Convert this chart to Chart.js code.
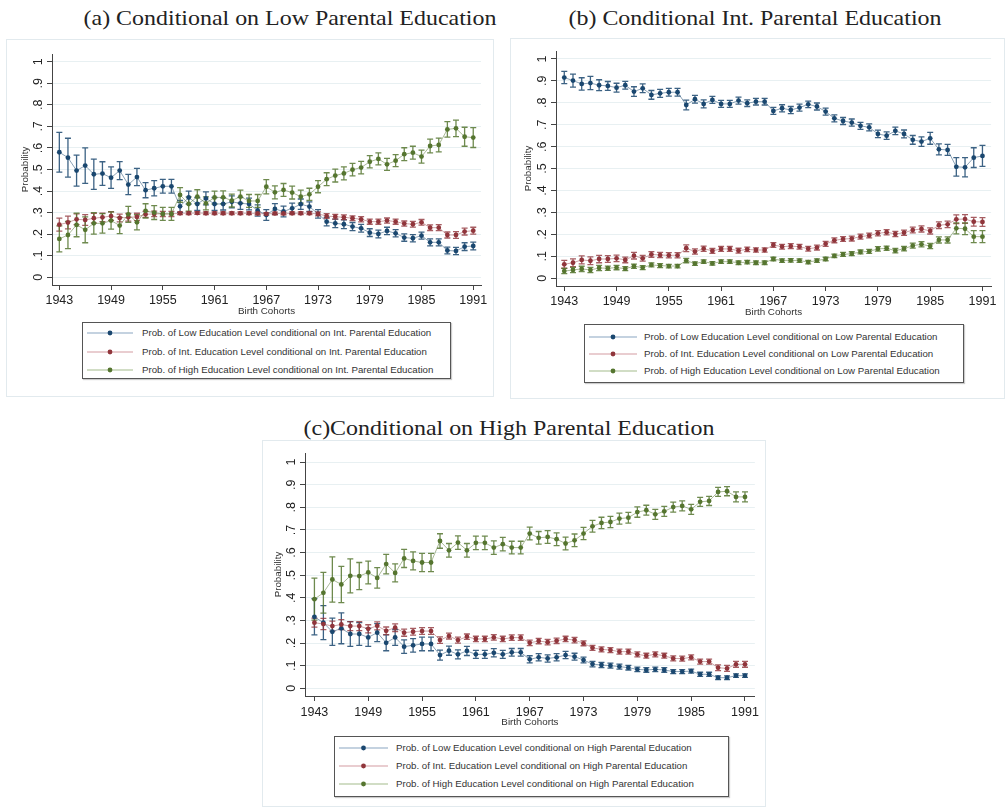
<!DOCTYPE html>
<html><head><meta charset="utf-8">
<script src="https://cdn.jsdelivr.net/npm/chart.js@4.4.1/dist/chart.umd.min.js"></script>
<style>
html,body{margin:0;padding:0;background:#fff;}
#page{position:relative;width:1006px;height:808px;overflow:hidden;font-family:"Liberation Sans",Arial,sans-serif;}
.frame{position:absolute;border:1px solid #e2eaee;box-sizing:border-box;}
.ptitle{position:absolute;width:600px;text-align:center;font-family:"Liberation Serif","Times New Roman",serif;font-size:21px;line-height:21px;color:#222;white-space:nowrap;transform:scaleX(1.14);transform-origin:50% 50%;}
canvas{position:absolute;}
.legend{position:absolute;border:1px solid #555;box-sizing:border-box;background:#fff;box-shadow:1px 1px 1px rgba(0,0,0,0.2);}
.lrow{position:absolute;height:14px;font-size:9.7px;line-height:14px;color:#333;white-space:nowrap;}
.lsvg{position:absolute;}
</style></head>
<body><div id="page"></div>
<script>
// ---------- categories ----------
const years = [1943,1944,1945,1946,1947,1948,1949,1950,1951,1952,1953,1954,1955,1956,1957,1958,1959,1960,1961,1962,1963,1964,1965,1966,1967,1968,1969,1970,1971,1972,1973,1974,1975,1976,1977,1978,1979,1980,1981,1982,1983,1984,1985,1986,1987,1988,1989,1990,1991];
const xTickValues = [1943,1949,1955,1961,1967,1973,1979,1985,1991];
const yTickValues = [0,0.1,0.2,0.3,0.4,0.5,0.6,0.7,0.8,0.9,1];
const yTickLabels = ['0','.1','.2','.3','.4','.5','.6','.7','.8','.9','1'];

// ---------- panel titles & legends ----------
const titleA = '(a) Conditional on Low Parental Education';
const titleB = '(b) Conditional Int. Parental Education';
const titleC = '(c)Conditional on High Parental Education';
const legendA = ['Prob. of Low Education Level conditional on Int. Parental Education','Prob. of Int. Education Level conditional on Int. Parental Education','Prob. of High Education Level conditional on Int. Parental Education'];
const legendB = ['Prob. of Low Education Level conditional on Low Parental Education','Prob. of Int. Education Level conditional on Low Parental Education','Prob. of High Education Level conditional on Low Parental Education'];
const legendC = ['Prob. of Low Education Level conditional on High Parental Education','Prob. of Int. Education Level conditional on High Parental Education','Prob. of High Education Level conditional on High Parental Education'];
const xTitle = 'Birth Cohorts';
const yTitle = 'Probability';

// ---------- panel (a) ----------
const aLow  = [0.58,0.555,0.495,0.518,0.478,0.481,0.462,0.495,0.43,0.465,0.404,0.413,0.422,0.422,0.329,0.37,0.34,0.366,0.34,0.34,0.35,0.343,0.34,0.31,0.289,0.317,0.305,0.32,0.339,0.328,0.294,0.258,0.25,0.246,0.235,0.227,0.207,0.201,0.215,0.204,0.184,0.181,0.193,0.162,0.162,0.124,0.122,0.142,0.145];
const aInt  = [0.244,0.254,0.269,0.266,0.274,0.278,0.284,0.275,0.278,0.28,0.292,0.294,0.294,0.294,0.297,0.297,0.298,0.297,0.297,0.297,0.297,0.297,0.297,0.296,0.294,0.296,0.296,0.297,0.297,0.297,0.294,0.284,0.281,0.278,0.274,0.269,0.258,0.258,0.263,0.258,0.249,0.246,0.255,0.23,0.23,0.196,0.196,0.212,0.216];
const aHigh = [0.178,0.196,0.243,0.22,0.25,0.25,0.263,0.24,0.292,0.255,0.308,0.3,0.294,0.294,0.382,0.34,0.374,0.343,0.37,0.371,0.356,0.374,0.354,0.354,0.42,0.394,0.405,0.393,0.374,0.385,0.42,0.455,0.472,0.482,0.499,0.509,0.536,0.549,0.524,0.541,0.571,0.578,0.56,0.609,0.614,0.686,0.691,0.652,0.648];
const aLowErr  = [0.092,0.09,0.072,0.082,0.07,0.055,0.05,0.042,0.047,0.04,0.035,0.035,0.032,0.032,0.028,0.03,0.03,0.03,0.03,0.028,0.028,0.028,0.027,0.026,0.025,0.025,0.025,0.024,0.024,0.022,0.02,0.02,0.02,0.02,0.019,0.018,0.018,0.018,0.017,0.017,0.017,0.017,0.016,0.016,0.016,0.016,0.017,0.018,0.018];
const aIntErr  = [0.03,0.03,0.025,0.025,0.022,0.02,0.02,0.018,0.018,0.017,0.014,0.013,0.012,0.012,0.006,0.006,0.006,0.006,0.006,0.006,0.006,0.006,0.006,0.006,0.006,0.006,0.006,0.006,0.006,0.006,0.009,0.011,0.011,0.011,0.011,0.012,0.012,0.012,0.012,0.012,0.012,0.013,0.013,0.013,0.014,0.014,0.016,0.016,0.016];
const aHighErr = [0.06,0.063,0.055,0.06,0.05,0.045,0.04,0.038,0.037,0.035,0.033,0.032,0.03,0.03,0.034,0.033,0.032,0.03,0.03,0.03,0.03,0.03,0.03,0.03,0.033,0.03,0.03,0.03,0.03,0.028,0.028,0.03,0.03,0.03,0.029,0.029,0.028,0.028,0.028,0.028,0.03,0.03,0.03,0.032,0.032,0.036,0.038,0.044,0.046];

// ---------- panel (b) ----------
const bLow  = [0.915,0.901,0.886,0.89,0.88,0.877,0.869,0.88,0.851,0.866,0.836,0.843,0.848,0.848,0.79,0.816,0.795,0.813,0.795,0.795,0.81,0.798,0.805,0.805,0.763,0.775,0.767,0.778,0.793,0.783,0.76,0.729,0.717,0.71,0.695,0.688,0.658,0.65,0.672,0.658,0.631,0.623,0.638,0.588,0.585,0.508,0.506,0.55,0.558];
const bInt  = [0.064,0.071,0.084,0.08,0.088,0.088,0.091,0.084,0.103,0.091,0.109,0.106,0.105,0.105,0.137,0.122,0.135,0.125,0.134,0.134,0.126,0.132,0.129,0.129,0.152,0.144,0.147,0.144,0.135,0.14,0.157,0.173,0.179,0.181,0.19,0.195,0.205,0.21,0.202,0.208,0.22,0.225,0.216,0.242,0.246,0.269,0.27,0.258,0.257];
const bHigh = [0.033,0.038,0.043,0.038,0.047,0.046,0.049,0.044,0.055,0.049,0.061,0.058,0.056,0.056,0.081,0.067,0.076,0.068,0.076,0.076,0.071,0.074,0.071,0.071,0.088,0.081,0.082,0.081,0.074,0.081,0.088,0.102,0.109,0.112,0.12,0.123,0.134,0.137,0.126,0.135,0.149,0.155,0.147,0.175,0.175,0.228,0.226,0.19,0.19];
const bLowErr  = [0.028,0.03,0.028,0.03,0.025,0.02,0.02,0.018,0.022,0.02,0.02,0.018,0.018,0.018,0.022,0.018,0.018,0.016,0.016,0.016,0.016,0.015,0.015,0.015,0.016,0.016,0.016,0.016,0.015,0.016,0.016,0.016,0.016,0.016,0.016,0.016,0.017,0.017,0.017,0.018,0.02,0.022,0.027,0.025,0.025,0.042,0.044,0.045,0.048];
const bIntErr  = [0.018,0.018,0.018,0.018,0.017,0.015,0.015,0.013,0.015,0.013,0.013,0.012,0.012,0.012,0.015,0.012,0.012,0.011,0.011,0.011,0.011,0.01,0.01,0.01,0.011,0.011,0.011,0.011,0.011,0.011,0.011,0.011,0.011,0.011,0.011,0.011,0.012,0.012,0.012,0.012,0.013,0.014,0.014,0.015,0.015,0.02,0.02,0.02,0.02];
const bHighErr = [0.012,0.012,0.012,0.012,0.012,0.01,0.01,0.009,0.01,0.009,0.009,0.009,0.008,0.008,0.01,0.008,0.008,0.008,0.008,0.008,0.008,0.008,0.008,0.008,0.008,0.008,0.008,0.008,0.008,0.008,0.008,0.008,0.009,0.009,0.009,0.009,0.01,0.01,0.01,0.01,0.011,0.012,0.012,0.014,0.014,0.025,0.027,0.027,0.027];

// ---------- panel (c) ----------
const cLow  = [0.316,0.29,0.25,0.265,0.24,0.24,0.225,0.246,0.201,0.225,0.184,0.19,0.196,0.196,0.147,0.166,0.15,0.165,0.15,0.15,0.157,0.15,0.159,0.159,0.128,0.137,0.132,0.137,0.147,0.14,0.125,0.107,0.103,0.1,0.096,0.091,0.084,0.081,0.084,0.081,0.074,0.074,0.076,0.062,0.062,0.047,0.047,0.056,0.056];
const cInt  = [0.29,0.284,0.275,0.282,0.275,0.275,0.263,0.276,0.254,0.268,0.246,0.25,0.253,0.253,0.213,0.231,0.213,0.228,0.218,0.218,0.225,0.218,0.224,0.224,0.201,0.209,0.204,0.21,0.218,0.213,0.199,0.179,0.172,0.169,0.162,0.162,0.15,0.144,0.15,0.144,0.132,0.131,0.137,0.118,0.118,0.091,0.088,0.106,0.106];
const cHigh = [0.394,0.422,0.481,0.459,0.497,0.496,0.512,0.488,0.549,0.51,0.574,0.563,0.556,0.556,0.651,0.61,0.644,0.61,0.643,0.643,0.622,0.637,0.622,0.622,0.684,0.665,0.669,0.659,0.64,0.654,0.684,0.716,0.731,0.735,0.75,0.754,0.779,0.787,0.769,0.782,0.801,0.806,0.791,0.824,0.828,0.868,0.871,0.846,0.846];
const cLowErr  = [0.08,0.075,0.06,0.068,0.055,0.05,0.04,0.04,0.035,0.035,0.03,0.03,0.03,0.03,0.022,0.02,0.02,0.02,0.018,0.018,0.018,0.018,0.017,0.017,0.016,0.016,0.016,0.016,0.016,0.015,0.013,0.012,0.012,0.011,0.011,0.01,0.01,0.01,0.01,0.01,0.009,0.009,0.009,0.009,0.009,0.008,0.008,0.008,0.008];
const cIntErr  = [0.02,0.025,0.022,0.022,0.02,0.02,0.018,0.018,0.017,0.017,0.016,0.015,0.015,0.015,0.014,0.013,0.013,0.012,0.012,0.012,0.012,0.012,0.012,0.012,0.012,0.012,0.012,0.012,0.012,0.012,0.011,0.011,0.011,0.011,0.011,0.011,0.011,0.011,0.011,0.011,0.011,0.011,0.011,0.011,0.011,0.013,0.013,0.013,0.013];
const cHighErr = [0.093,0.09,0.1,0.08,0.075,0.06,0.05,0.045,0.043,0.04,0.04,0.04,0.04,0.04,0.032,0.03,0.03,0.03,0.03,0.03,0.03,0.03,0.028,0.028,0.028,0.028,0.028,0.028,0.028,0.028,0.027,0.026,0.025,0.025,0.024,0.024,0.023,0.022,0.022,0.022,0.022,0.022,0.022,0.02,0.02,0.02,0.02,0.022,0.022];

// ---------- styles ----------
const markColors = ['#1a476f','#90353b','#55752f'];
const lineColors = ['rgba(26,71,111,0.5)','rgba(144,53,59,0.45)','rgba(85,117,47,0.5)'];
const errColors  = ['rgba(26,71,111,0.85)','rgba(144,53,59,0.8)','rgba(85,117,47,0.85)'];
const legendLineColors = ['#8aa6c2','#d49ca2','#a3bb8c'];

const panels = [
  {title:titleA, legend:legendA, series:[aLow,aInt,aHigh], errs:[aLowErr,aIntErr,aHighErr],
   frame:[6,39,488,358], titleCx:290, titleTop:8.4,
   canvas:[6,40,488,280], padTop:14, padRight:13, yW:46, xH:35,
   xMin:1942.15, xMax:1991.9, yMin:-0.036, yMax:1.036, yTitlePad:13, xTitlePad:3, xTickPad:3,
   lg:{box:[82,322,369,57], rows:[333,352,370], line:[87,133], textX:142}},
  {title:titleB, legend:legendB, series:[bLow,bInt,bHigh], errs:[bLowErr,bIntErr,bHighErr],
   frame:[510,38,495,361], titleCx:755, titleTop:8.4,
   canvas:[511,40,489,282], padTop:11, padRight:7, yW:45, xH:36,
   xMin:1942.05, xMax:1991.99, yMin:-0.035, yMax:1.036, yTitlePad:11, xTitlePad:4, xTickPad:3.5,
   lg:{box:[584,324,380,59], rows:[336.7,354,371.3], line:[589,637], textX:644}},
  {title:titleC, legend:legendC, series:[cLow,cInt,cHigh], errs:[cLowErr,cIntErr,cHighErr],
   frame:[262,440,504,367], titleCx:509, titleTop:418.4,
   canvas:[263,441,500,290], padTop:12, padRight:5, yW:42, xH:35,
   xMin:1941.95, xMax:1992.1, yMin:-0.034, yMax:1.04, yTitlePad:9, xTitlePad:3, xTickPad:4,
   lg:{box:[334,736,395,61], rows:[748.3,766,784], line:[339,388], textX:396}}
];

Chart.defaults.font.family = '"Liberation Sans", Arial, sans-serif';
Chart.defaults.color = '#333';

const errorBarPlugin = {
  id: 'errorBars',
  beforeDatasetsDraw(chart) {
    const {ctx, chartArea, scales} = chart;
    const xs = scales.x, ys = scales.y;
    ctx.save();
    ctx.beginPath();
    ctx.rect(chartArea.left, chartArea.top, chartArea.right - chartArea.left, chartArea.bottom - chartArea.top);
    ctx.clip();
    chart.data.datasets.forEach(ds => {
      if (!ds.errors) return;
      ctx.strokeStyle = ds.errColor;
      ctx.lineWidth = 1.3;
      ds.data.forEach((pt, j) => {
        const e = ds.errors[j];
        const px = xs.getPixelForValue(pt.x);
        const top = ys.getPixelForValue(pt.y + e);
        const bot = ys.getPixelForValue(pt.y - e);
        ctx.beginPath();
        ctx.moveTo(px, top); ctx.lineTo(px, bot);
        ctx.moveTo(px - 3, top); ctx.lineTo(px + 3, top);
        ctx.moveTo(px - 3, bot); ctx.lineTo(px + 3, bot);
        ctx.stroke();
      });
    });
    ctx.restore();
  }
};

const page = document.getElementById('page');

panels.forEach(P => {
  const fr = document.createElement('div');
  fr.className = 'frame';
  fr.style.left = P.frame[0] + 'px'; fr.style.top = P.frame[1] + 'px';
  fr.style.width = P.frame[2] + 'px'; fr.style.height = P.frame[3] + 'px';
  page.appendChild(fr);

  const t = document.createElement('div');
  t.className = 'ptitle';
  t.textContent = P.title;
  t.style.left = (P.titleCx - 300) + 'px';
  t.style.top = P.titleTop + 'px';
  page.appendChild(t);

  const cv = document.createElement('canvas');
  cv.width = P.canvas[2]; cv.height = P.canvas[3];
  cv.style.left = P.canvas[0] + 'px'; cv.style.top = P.canvas[1] + 'px';
  cv.style.width = P.canvas[2] + 'px'; cv.style.height = P.canvas[3] + 'px';
  page.appendChild(cv);

  const datasets = P.series.map((vals, k) => ({
    label: P.legend[k],
    data: years.map((yr, i) => ({x: yr, y: vals[i]})),
    errors: P.errs[k],
    errColor: errColors[k],
    borderColor: lineColors[k],
    borderWidth: 1,
    pointRadius: 2.4,
    pointBackgroundColor: markColors[k],
    pointBorderColor: markColors[k],
    pointBorderWidth: 0,
    tension: 0,
    order: 2 - k
  }));

  new Chart(cv, {
    type: 'line',
    data: {datasets},
    plugins: [errorBarPlugin],
    options: {
      responsive: false,
      animation: false,
      devicePixelRatio: 1,
      layout: {padding: {top: P.padTop, right: P.padRight, left: 0, bottom: 0}},
      plugins: {legend: {display: false}, tooltip: {enabled: false}},
      scales: {
        x: {
          type: 'linear', min: P.xMin, max: P.xMax,
          afterBuildTicks: s => { s.ticks = xTickValues.map(v => ({value: v})); },
          afterFit: s => { s.height = P.xH; },
          grid: {display: true, drawOnChartArea: false, drawTicks: true, tickLength: 5, tickColor: '#444', tickWidth: 1},
          border: {display: true, color: '#444', width: 1},
          ticks: {autoSkip: false, maxRotation: 0, minRotation: 0, padding: P.xTickPad, color: '#222', font: {size: 12.5}, callback: v => String(v)},
          title: {display: true, text: xTitle, color: '#333', font: {size: 9.8}, padding: {top: 0, bottom: P.xTitlePad}}
        },
        y: {
          type: 'linear', min: P.yMin, max: P.yMax,
          afterBuildTicks: s => { s.ticks = yTickValues.map(v => ({value: v})); },
          afterFit: s => { s.width = P.yW; },
          grid: {display: true, drawOnChartArea: true, color: '#e8f0f2', lineWidth: 1, drawTicks: true, tickLength: 5, tickColor: '#444', tickWidth: 1},
          border: {display: true, color: '#444', width: 1},
          ticks: {autoSkip: false, minRotation: 90, maxRotation: 90, crossAlign: 'center', padding: 3, color: '#222', font: {size: 12.5},
                  callback: v => { const i = yTickValues.findIndex(t => Math.abs(t - v) < 1e-9); return i >= 0 ? yTickLabels[i] : ''; }},
          title: {display: true, text: yTitle, color: '#333', font: {size: 9.8}, padding: {top: P.yTitlePad, bottom: 0}}
        }
      }
    }
  });

  // legend (HTML)
  const lg = document.createElement('div');
  lg.className = 'legend';
  const [bx, by, bw, bh] = P.lg.box;
  lg.style.left = bx + 'px'; lg.style.top = by + 'px';
  lg.style.width = bw + 'px'; lg.style.height = bh + 'px';
  page.appendChild(lg);
  P.legend.forEach((txt, k) => {
    const cy = P.lg.rows[k] - by - 1;
    const x0 = P.lg.line[0] - bx - 1, x1 = P.lg.line[1] - bx - 1;
    const svgNS = 'http://www.w3.org/2000/svg';
    const svg = document.createElementNS(svgNS, 'svg');
    svg.setAttribute('class', 'lsvg');
    svg.setAttribute('width', x1 - x0 + 2); svg.setAttribute('height', 8);
    svg.style.left = x0 + 'px'; svg.style.top = (cy - 4) + 'px';
    const ln = document.createElementNS(svgNS, 'line');
    ln.setAttribute('x1', 0); ln.setAttribute('x2', x1 - x0); ln.setAttribute('y1', 4); ln.setAttribute('y2', 4);
    ln.setAttribute('stroke', legendLineColors[k]); ln.setAttribute('stroke-width', 1.2);
    svg.appendChild(ln);
    const c = document.createElementNS(svgNS, 'circle');
    c.setAttribute('cx', (x1 - x0) / 2); c.setAttribute('cy', 4); c.setAttribute('r', 2.4);
    c.setAttribute('fill', markColors[k]);
    svg.appendChild(c);
    lg.appendChild(svg);
    const row = document.createElement('div');
    row.className = 'lrow';
    row.textContent = txt;
    row.style.left = (P.lg.textX - bx - 1) + 'px';
    row.style.top = (cy - 7) + 'px';
    lg.appendChild(row);
  });
});
</script>
</body></html>
